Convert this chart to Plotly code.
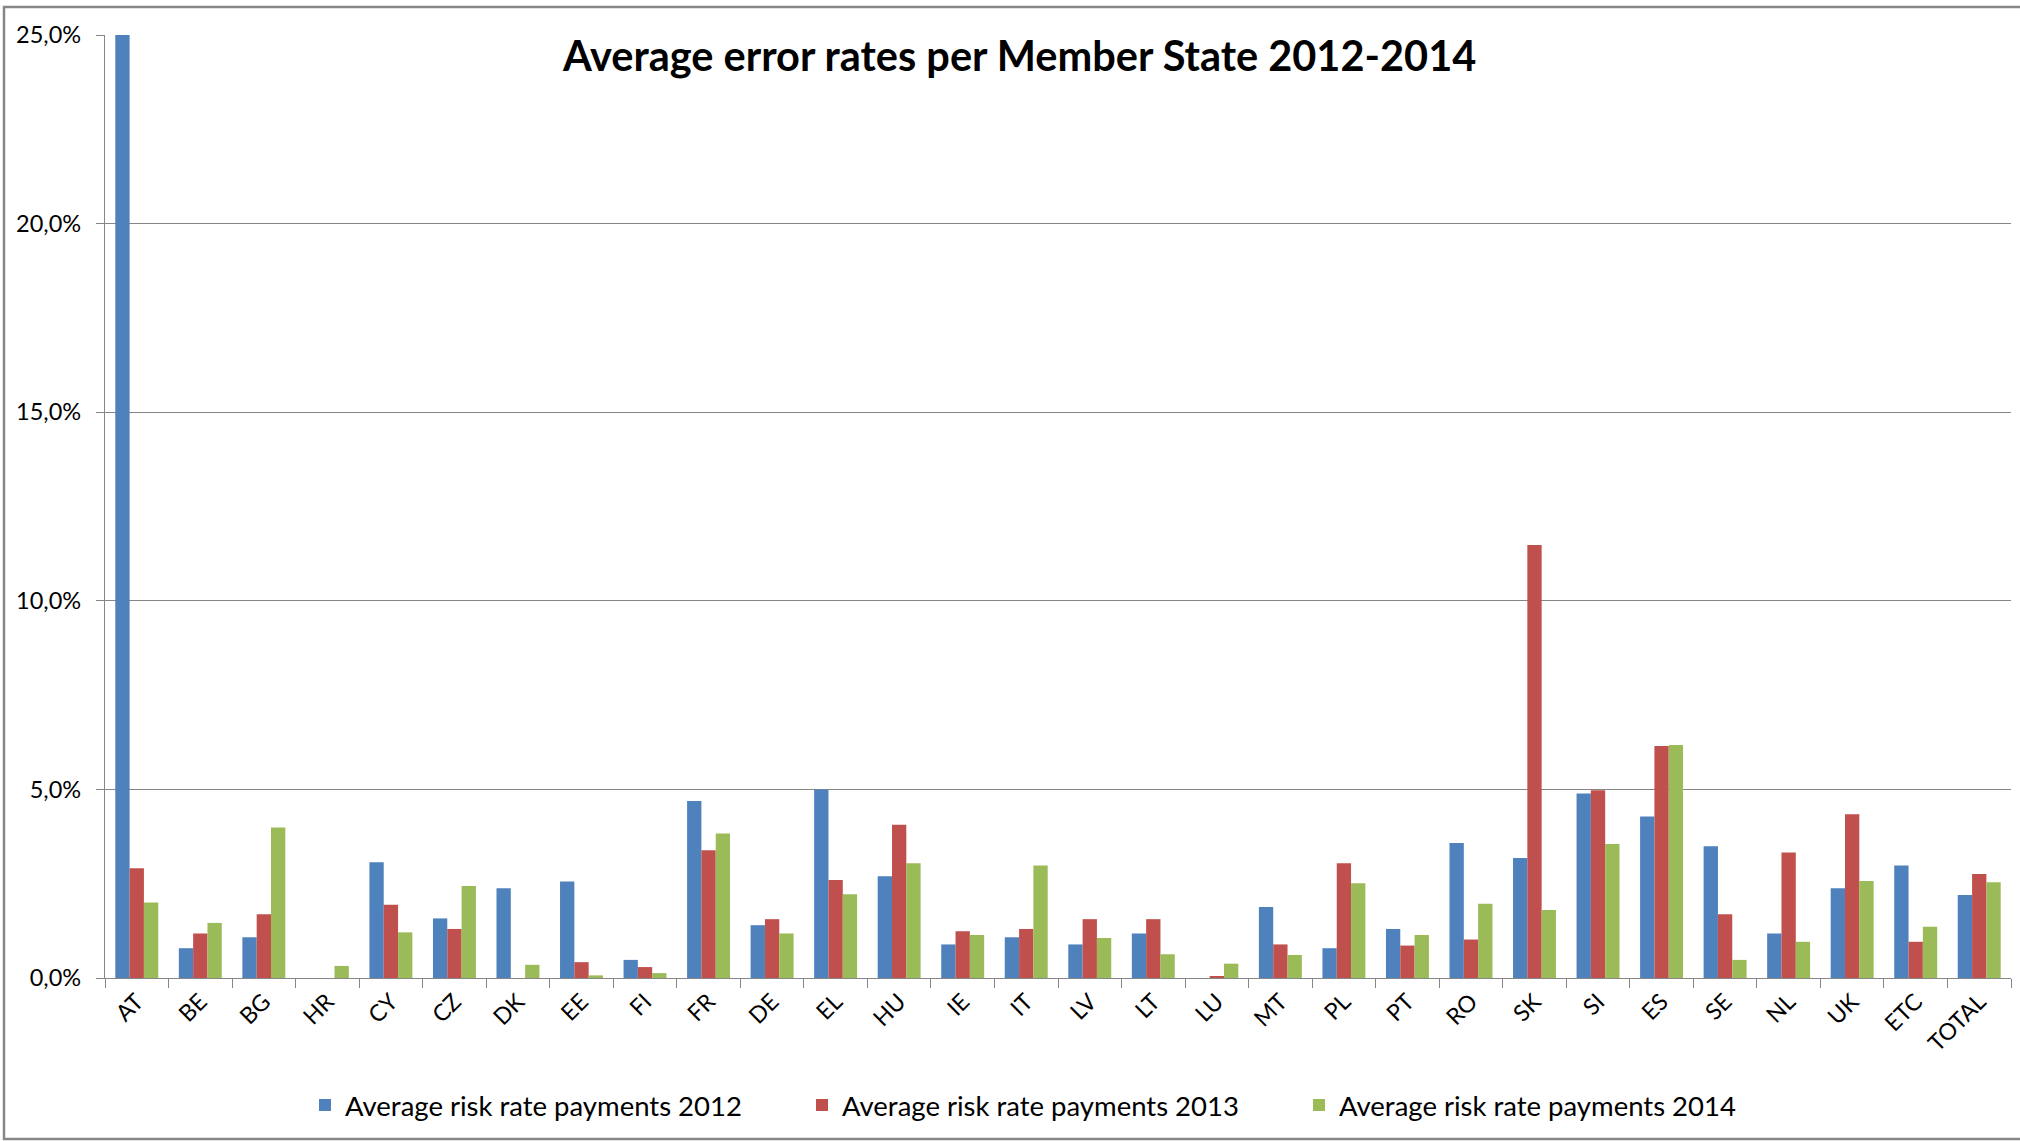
import plotly.graph_objects as go

countries = ["AT", "BE", "BG", "HR", "CY", "CZ", "DK", "EE", "FI", "FR",
             "DE", "EL", "HU", "IE", "IT", "LV", "LT", "LU", "MT", "PL",
             "PT", "RO", "SK", "SI", "ES", "SE", "NL", "UK", "ETC", "TOTAL"]

rate_2012 = [25.0, 0.79, 1.08, 0.0, 3.07, 1.58, 2.38, 2.56, 0.48, 4.69,
             1.40, 5.00, 2.70, 0.89, 1.08, 0.89, 1.18, 0.0, 1.88, 0.79,
             1.30, 3.58, 3.18, 4.89, 4.28, 3.49, 1.18, 2.38, 2.98, 2.20]

rate_2013 = [2.91, 1.18, 1.69, 0.0, 1.94, 1.30, 0.0, 0.42, 0.29, 3.39,
             1.56, 2.60, 4.06, 1.24, 1.30, 1.56, 1.56, 0.04, 0.89, 3.04,
             0.86, 1.02, 11.48, 4.98, 6.15, 1.69, 3.33, 4.34, 0.96, 2.76]

rate_2014 = [2.00, 1.46, 3.99, 0.32, 1.21, 2.44, 0.35, 0.07, 0.13, 3.83,
             1.18, 2.22, 3.04, 1.14, 2.98, 1.06, 0.63, 0.38, 0.61, 2.51,
             1.14, 1.97, 1.80, 3.55, 6.18, 0.48, 0.96, 2.57, 1.36, 2.54]

series_names = ["Average risk rate payments 2012",
                "Average risk rate payments 2013",
                "Average risk rate payments 2014"]
colors = ["#4F81BD", "#C0504D", "#9BBB59"]

y_ticks = [0, 5, 10, 15, 20, 25]
y_tick_labels = ["0,0%", "5,0%", "10,0%", "15,0%", "20,0%", "25,0%"]

title_text = "Average error rates per Member State 2012-2014"

FONT = "Lato"
W, H = 2020, 1141
ML, MR, MT, MB = 105, 9, 35, 163
PW, PH = W - ML - MR, H - MT - MB

fig = go.Figure()
for name, vals, col in zip(series_names, [rate_2012, rate_2013, rate_2014], colors):
    fig.add_trace(go.Bar(x=countries, y=vals, name=name,
                         marker=dict(color=col, line=dict(width=0))))

def px_x(px):
    return (px - ML) / PW

def px_y(py):
    return (H - MB - py) / PH

fig.update_layout(
    width=W, height=H,
    margin=dict(l=ML, r=MR, t=MT, b=MB, autoexpand=False),
    paper_bgcolor="white", plot_bgcolor="white",
    barmode="group", bargap=0.324, bargroupgap=0,
    font=dict(family=FONT, color="#000000"),
    showlegend=True,
    legend=dict(orientation="h", x=px_x(305), xanchor="left",
                y=px_y(1105), yanchor="middle",
                font=dict(family=FONT, size=27.5, color="#000000"),
                entrywidth=452, entrywidthmode="pixels",
                bgcolor="rgba(0,0,0,0)", traceorder="normal"),
    annotations=[dict(text="<b>" + title_text + "</b>", xref="paper", yref="paper",
                      x=px_x(1019), y=px_y(55), xanchor="center", yanchor="middle",
                      showarrow=False, font=dict(family=FONT, size=41.5, color="#000000"))],
    shapes=[dict(type="rect", xref="paper", yref="paper",
                 x0=px_x(4), x1=px_x(2030), y0=px_y(1139), y1=px_y(7),
                 line=dict(color="#878787", width=2.5), fillcolor="rgba(0,0,0,0)",
                 layer="below")],
)

fig.update_xaxes(
    type="category", showline=True, linecolor="#868686", linewidth=1.3,
    ticks="outside", tickson="boundaries", ticklen=9, tickcolor="#868686", tickwidth=1.3,
    tickangle=-45, tickfont=dict(family=FONT, size=23, color="#000000"),
    showgrid=False, zeroline=False,
)
fig.update_yaxes(
    range=[0, 25], tickmode="array", tickvals=y_ticks, ticktext=y_tick_labels,
    showgrid=True, gridcolor="#868686", gridwidth=1.3,
    showline=True, linecolor="#868686", linewidth=1.3,
    ticks="outside", ticklen=8, tickcolor="#868686", tickwidth=1.3,
    tickfont=dict(family=FONT, size=23.5, color="#000000"),
    zeroline=False, ticklabelstandoff=10,
)

fig.write_html("out.html")
